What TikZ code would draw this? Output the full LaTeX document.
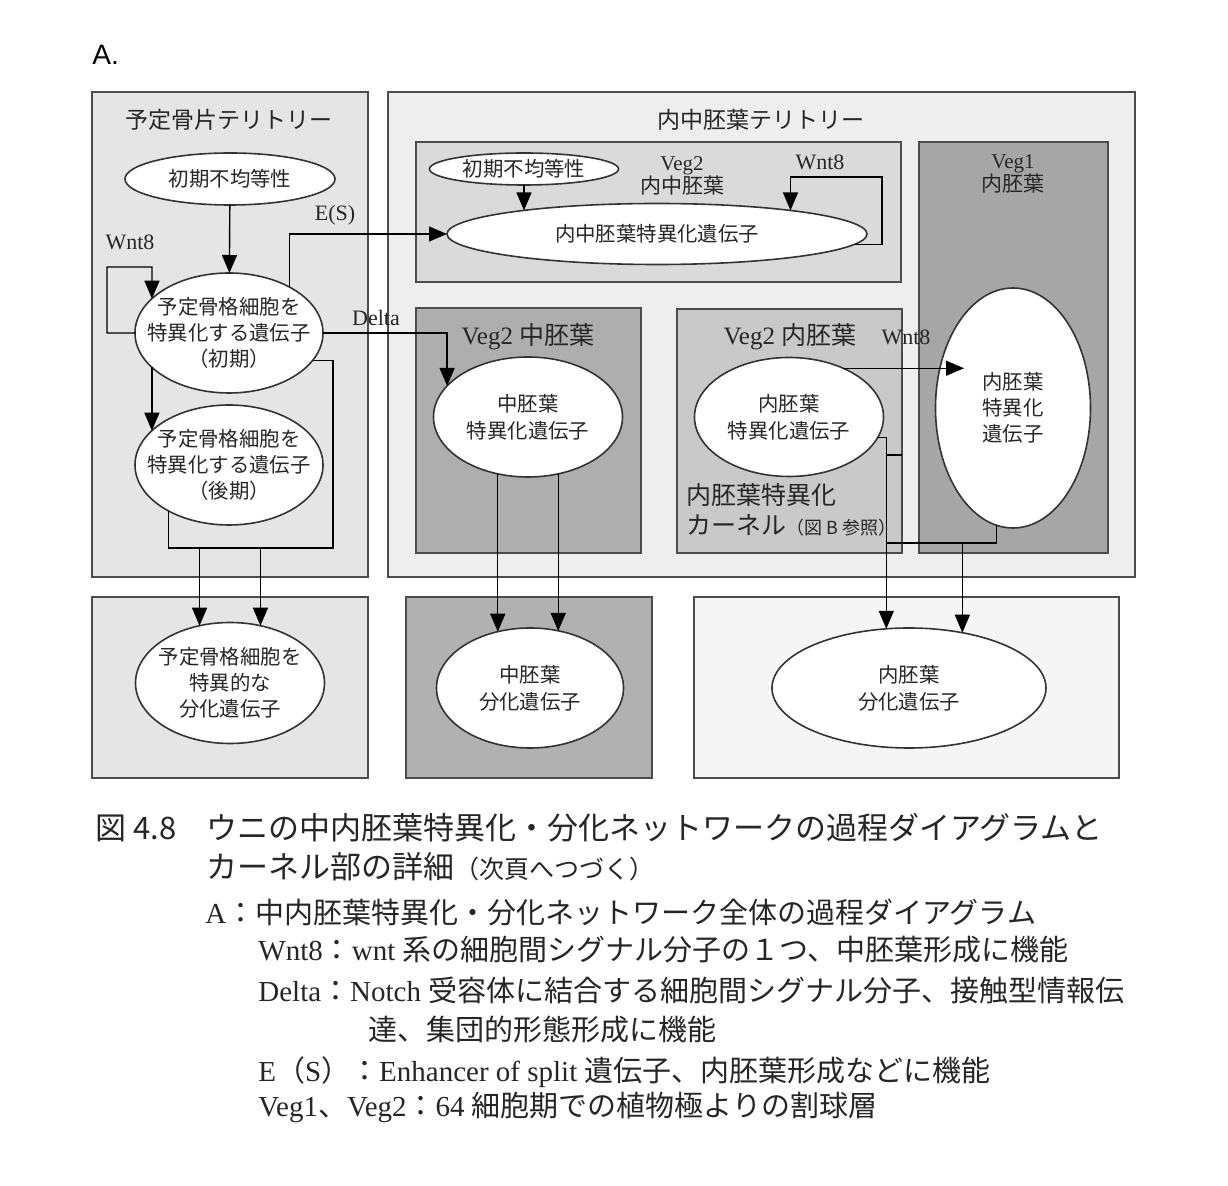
\documentclass[tikz,border=0pt]{standalone}
\usepackage{fontspec}
\setmainfont{Liberation Serif}
\newfontfamily\jp{Noto Sans CJK JP}
\newfontfamily\lsans{Liberation Sans}
\usetikzlibrary{arrows.meta,shapes.geometric,calc}
\newcommand\J[1]{{\jp #1}}
\definecolor{terrL}{RGB}{229,229,229}
\definecolor{terrR}{RGB}{238,238,238}
\definecolor{vegTop}{RGB}{218,218,218}
\definecolor{vegOne}{RGB}{166,166,166}
\definecolor{vegMeso}{RGB}{174,174,174}
\definecolor{vegEndo}{RGB}{201,201,201}
\definecolor{botL}{RGB}{229,229,229}
\definecolor{botM}{RGB}{177,177,177}
\definecolor{botR}{RGB}{245,245,245}
\begin{document}
\begin{tikzpicture}[x=0.5pt,y=-0.5pt,
  boxst/.style={draw=black!70, line width=0.9pt},
  ellst/.style={ellipse, draw=black!80, fill=white, line width=0.8pt, inner sep=0pt, outer sep=0pt},
  etxt/.style={font=\jp\fontsize{10.2}{12.8}\selectfont, align=center, inner sep=0pt, text=black!85},
  connst/.style={line width=0.7pt, black},
  arrst/.style={connst, -{Triangle[length=9pt,width=7.5pt]}},
  labst/.style={font=\fontsize{11}{13}\selectfont, inner sep=0pt, text=black!85},
  veglab/.style={font=\fontsize{12.5}{14}\selectfont, inner sep=0pt, text=black!85},
  toplab/.style={font=\fontsize{10.5}{11.5}\selectfont, inner sep=0pt, align=center, text=black!85},
  ttlst/.style={font=\jp\fontsize{11.5}{13}\selectfont, inner sep=0pt, text=black!85},
  kernst/.style={font=\jp\fontsize{12.5}{14}\selectfont, inner sep=0pt, anchor=west, text=black!85},
  capst/.style={font=\fontsize{14.5}{17}\selectfont, inner sep=0pt, anchor=west, text=black!85}
]
\useasboundingbox (0,0) rectangle (1228,1186);
\fill[white] (0,0) rectangle (1228,1186);

\node[font=\lsans\fontsize{14}{16}\selectfont, inner sep=0pt, anchor=west] (lblA) at (92,55) {A.};

% territory boxes
\draw[boxst, fill=terrL] (92,92) rectangle (368,577);
\draw[boxst, fill=terrR] (388,92) rectangle (1135,577);
\draw[boxst, fill=vegTop] (416,142) rectangle (901,282);
\draw[boxst, fill=vegOne] (919,142) rectangle (1108,553);
\draw[boxst, fill=vegMeso] (416,308) rectangle (641,553);
\draw[boxst, fill=vegEndo] (677,309) rectangle (902,553);
\draw[boxst, fill=botL] (92,597) rectangle (368,778);
\draw[boxst, fill=botM] (406,597) rectangle (652,778);
\draw[boxst, fill=botR] (694,597) rectangle (1119,778);

% titles and labels
\node[ttlst] (tL) at (229,120) {予定骨片テリトリー};
\node[ttlst] (tR) at (761,120) {内中胚葉テリトリー};
\node[toplab] (vTop) at (682,176) {Veg2\\\J{内中胚葉}};
\node[toplab] (vOne) at (1013,174) {Veg1\\\J{内胚葉}};
\node[veglab] (vMes) at (528,337) {Veg2 \J{中胚葉}};
\node[veglab] (vEnd) at (790,337) {Veg2 \J{内胚葉}};
\node[labst] (wA) at (130,242) {Wnt8};
\node[labst] (wB) at (820,162) {Wnt8};
\node[labst] (wC) at (906,337) {Wnt8};
\node[labst] (es) at (335,215) {E(S)};
\node[labst] (dl) at (376,318) {Delta};

% ellipses
\node[ellst, minimum width=105pt, minimum height=26pt, label={[etxt]center:{初期不均等性}}] (e0) at (230,179) {};
\node[ellst, minimum width=94pt, minimum height=60pt, label={[etxt]center:{予定骨格細胞を\\特異化する遺伝子\\（初期）}}] (e1) at (229,333) {};
\node[ellst, minimum width=94pt, minimum height=60pt, label={[etxt]center:{予定骨格細胞を\\特異化する遺伝子\\（後期）}}] (e2) at (229,465) {};
\node[ellst, minimum width=94.5pt, minimum height=16pt, label={[etxt]center:{初期不均等性}}] (e3) at (524,169) {};
\node[ellst, minimum width=210pt, minimum height=30.5pt, label={[etxt]center:{内中胚葉特異化遺伝子}}] (e4) at (657,234) {};
\node[ellst, minimum width=94.5pt, minimum height=60pt, label={[etxt, font=\jp\fontsize{10.2}{13.5}\selectfont]center:{中胚葉\\特異化遺伝子}}] (e5) at (528,417) {};
\node[ellst, minimum width=94.5pt, minimum height=59.5pt, label={[etxt, font=\jp\fontsize{10.2}{13.5}\selectfont]center:{内胚葉\\特異化遺伝子}}] (e6) at (789,417) {};
\node[ellst, minimum width=77.5pt, minimum height=120pt, label={[etxt, font=\jp\fontsize{10.2}{13}\selectfont]center:{内胚葉\\特異化\\遺伝子}}] (e7) at (1013,408) {};
\node[ellst, minimum width=94.5pt, minimum height=60.5pt, label={[etxt, font=\jp\fontsize{10.2}{13}\selectfont]center:{予定骨格細胞を\\特異的な\\分化遺伝子}}] (b1) at (230,683) {};
\node[ellst, minimum width=93.5pt, minimum height=60pt, label={[etxt, font=\jp\fontsize{10.2}{13.5}\selectfont]center:{中胚葉\\分化遺伝子}}] (b2) at (530,688) {};
\node[ellst, minimum width=137pt, minimum height=60pt, label={[etxt, font=\jp\fontsize{10.2}{13.5}\selectfont]center:{内胚葉\\分化遺伝子}}] (b3) at (909,688) {};

% coordinates
\coordinate (wl) at (152,267);
\coordinate (busL) at (333,548);
\coordinate (w8c) at (882,177);
\coordinate (stA) at (886,455);
\coordinate (stB) at (902,455);
\coordinate (busR) at (886,543);
\coordinate (w8tip) at (964,368);

% connectors, left territory
\draw[arrst] (e0) -- (e1);
\draw[arrst] (e1.west) -- ++(-28,0) |- (wl) -- (e1.156);
\draw[arrst] (e1.204) -- (e2.156);
\draw[arrst] (e1.37) |- (e4.west);
\draw[arrst] (e1.east) -| (e5.159);
\draw[connst] (e1.342) -| (busL) -| (e2.217);
\draw[arrst] (b1.118 |- busL) -- (b1.118);
\draw[arrst] (b1.62 |- busL) -- (b1.62);

% top inner box
\draw[arrst] (e3.south) -- (e3.south |- e4.170);
\draw[arrst] (e4.357) -| (w8c) -| (e4.10);

% mesoderm
\draw[arrst] (e5.242) -- (e5.242 |- b2.120);
\draw[arrst] (e5.298) -- (e5.298 |- b2.63);

% endoderm
\draw[arrst] (e6.42) -- (e6.42 -| w8tip);
\draw[arrst] (e6.347) -| (b3.111);
\draw[connst] (stA) -- (stB);
\draw[connst] (e7.262) |- (busR);
\draw[arrst] (b3.46 |- busR) -- (b3.46);

% kernel text
\node[kernst] (k1) at (686,495) {内胚葉特異化};
\node[kernst] (k2) at (686,525) {カーネル{\fontsize{9}{11}\selectfont（図 B 参照）}};

% caption
\node[capst, font=\jp\fontsize{15.5}{17}\selectfont] (c0) at (95,828) {図 4.8};
\node[capst, font=\jp\fontsize{15.5}{17}\selectfont] (c1) at (206,828) {ウニの中内胚葉特異化・分化ネットワークの過程ダイアグラムと};
\node[capst, font=\jp\fontsize{15.5}{17}\selectfont] (c2) at (206,867) {カーネル部の詳細{\fontsize{12.5}{14}\selectfont（次頁へつづく）}};
\node[capst] (c3) at (205,912) {A\J{：中内胚葉特異化・分化ネットワーク全体の過程ダイアグラム}};
\node[capst] (c4) at (258,950) {Wnt8\J{：}wnt \J{系の細胞間シグナル分子の１つ、中胚葉形成に機能}};
\node[capst] (c5) at (258,990) {Delta\J{：}Notch \J{受容体に結合する細胞間シグナル分子、接触型情報伝}};
\node[capst] (c6) at (368,1030) {\J{達、集団的形態形成に機能}};
\node[capst] (c7) at (258,1072) {E\J{（}S\J{）：}Enhancer of split \J{遺伝子、内胚葉形成などに機能}};
\node[capst] (c8) at (258,1107) {Veg1\J{、}Veg2\J{：}64 \J{細胞期での植物極よりの割球層}};
\end{tikzpicture}
\end{document}
